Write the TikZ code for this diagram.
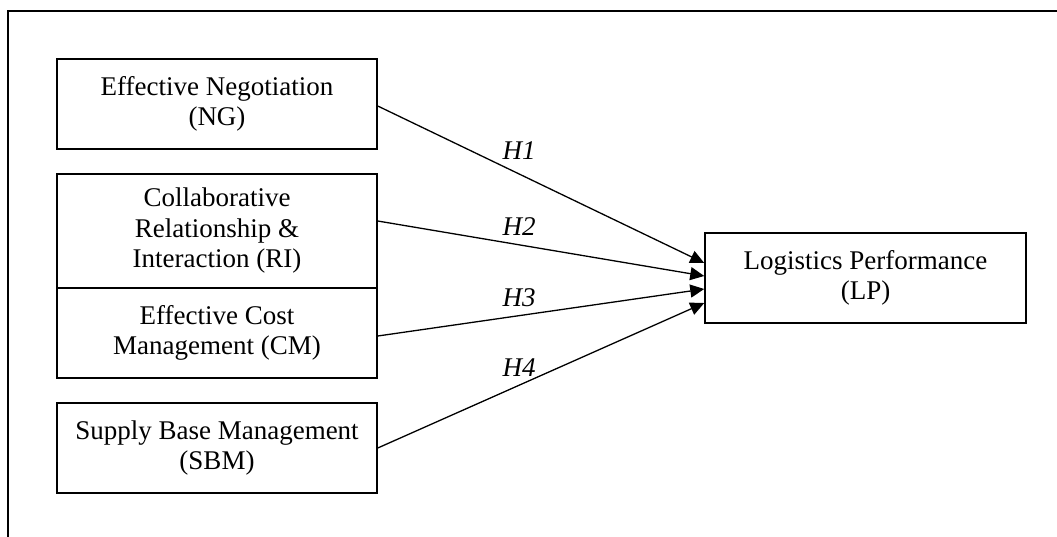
\documentclass[tikz,border=0pt]{standalone}
\usepackage{fontspec}
\setmainfont{Liberation Serif}
\usetikzlibrary{arrows.meta}
\begin{document}
\begin{tikzpicture}[x=1pt,y=-1pt,
  box/.style={draw,line width=1.5pt,minimum width=320pt,align=center,inner sep=0pt,
    font=\fontsize{27}{30.5}\selectfont},
  hyp/.style={font=\fontsize{27}{30.5}\selectfont\itshape,inner sep=0pt},
  link/.style={line width=1.3pt,-{Triangle[length=14pt,width=13pt]}}]
\useasboundingbox (0,0) rectangle (1057,536);
\clip (0,0) rectangle (1057,536);
\draw[line width=2.5pt] (8,545) -- (8,11) -- (1065,11);
\node[box,minimum height=90pt] (NG) at (217,104) {Effective Negotiation\\(NG)};
\node[box,minimum height=114pt] (RI) at (217,231) {Collaborative\\Relationship \&\\Interaction (RI)};
\node[box,minimum height=90pt] (CM) at (217,333) {Effective Cost\\Management (CM)};
\node[box,minimum height=90pt] (SBM) at (217,448) {Supply Base Management\\(SBM)};
\node[box,minimum width=321pt,minimum height=90pt] (LP) at (865.5,278) {Logistics Performance\\(LP)};
\draw[link] ([yshift=-2pt]NG.east) -- ([yshift=15pt]LP.west);
\draw[link] ([yshift=10pt]RI.east) -- ([yshift=2pt]LP.west);
\draw[link] ([yshift=-3pt]CM.east) -- ([yshift=-11pt]LP.west);
\draw[link] (SBM.east) -- ([yshift=-25pt]LP.west);
\node[hyp] (h1) at (519,151) {H1};
\node[hyp] (h2) at (519,227) {H2};
\node[hyp] (h3) at (519,298) {H3};
\node[hyp] (h4) at (519,368) {H4};
\end{tikzpicture}
\end{document}
